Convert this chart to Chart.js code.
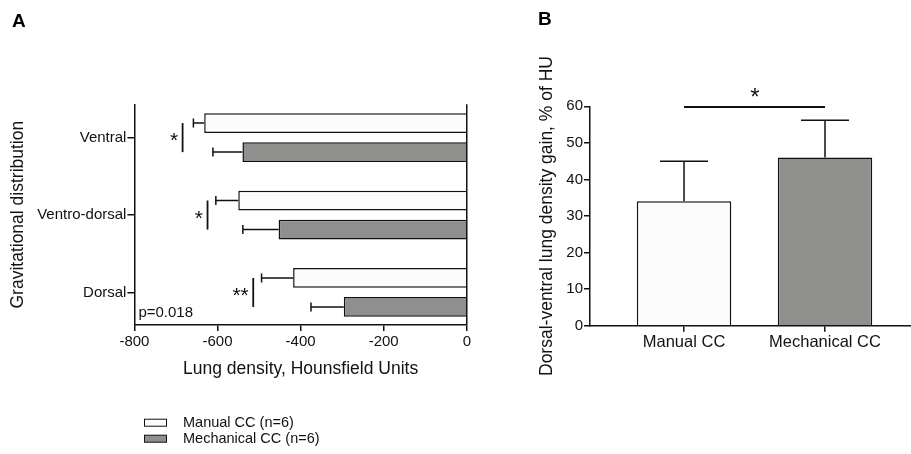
<!DOCTYPE html>
<html><head><meta charset="utf-8">
<script src="https://cdn.jsdelivr.net/npm/chart.js@4.4.1/dist/chart.umd.min.js"></script>
<style>
html,body{margin:0;padding:0;background:#fff;width:911px;height:454px;overflow:hidden}
#wrap{position:relative;width:911px;height:454px}
canvas{position:absolute;top:0}
.lbl{position:absolute;font:bold 19px "Liberation Sans",Arial,sans-serif;line-height:19px;color:#000}
</style></head><body>
<div id="wrap">
<canvas id="cA" width="480" height="454" style="left:0;width:480px;height:454px"></canvas>
<canvas id="cB" width="431" height="454" style="left:480px;width:431px;height:454px"></canvas>
<div class="lbl" style="left:12px;top:11px">A</div>
<div class="lbl" style="left:538px;top:9px">B</div>
</div>
<script>
const FONT = '"Liberation Sans", Arial, Helvetica, sans-serif';
const ink = '#111';

// ---- Panel A data ----
const categoriesA = ['Ventral', 'Ventro-dorsal', 'Dorsal'];
const seriesNames = ['Manual CC (n=6)', 'Mechanical CC (n=6)'];
const manualMeanA = [-632, -550, -418];
const manualSdA = [26, 54, 76];
const mechMeanA = [-540, -453, -296];
const mechSdA = [71, 86, 79];
const xTicksA = [-800, -600, -400, -200, 0];
const sigXA = [-684, -624, -514];
const sigLabelsA = ['*', '*', '**'];
const pValueText = 'p=0.018';

// ---- Panel B data ----
const categoriesB = ['Manual CC', 'Mechanical CC'];
const meanB = [34, 46];
const sdB = [11, 10.2];
const yTicksB = [0, 10, 20, 30, 40, 50, 60];
const sigB = { from: 0, to: 1, y: 60, label: '*' };

const colManual = '#fcfcfc';
const colMech = '#8f8f8d';

const errorBars = {
  id: 'errorBars',
  afterDatasetsDraw(chart, args, opts) {
    const ctx = chart.ctx;
    const horiz = chart.options.indexAxis === 'y';
    const vScale = horiz ? chart.scales.x : chart.scales.y;
    chart.data.datasets.forEach((ds, di) => {
      if (!ds.sd) return;
      const meta = chart.getDatasetMeta(di);
      meta.data.forEach((el, i) => {
        const d = ds.data[i];
        const val = horiz ? d.x : d.y;
        const tip = vScale.getPixelForValue(val + Math.sign(val) * ds.sd[i]);
        ctx.save();
        ctx.strokeStyle = ink; ctx.lineWidth = 1.5;
        ctx.beginPath();
        if (horiz) {
          ctx.moveTo(el.x, el.y); ctx.lineTo(tip, el.y);
          ctx.moveTo(tip, el.y - opts.cap); ctx.lineTo(tip, el.y + opts.cap);
        } else {
          ctx.moveTo(el.x, el.y); ctx.lineTo(el.x, tip);
          ctx.moveTo(el.x - opts.cap, tip); ctx.lineTo(el.x + opts.cap, tip);
        }
        ctx.stroke();
        ctx.restore();
      });
    });
  }
};

const sigAPlugin = {
  id: 'sigA',
  afterDatasetsDraw(chart) {
    const ctx = chart.ctx, xs = chart.scales.x;
    const m0 = chart.getDatasetMeta(0), m1 = chart.getDatasetMeta(1);
    ctx.save();
    ctx.strokeStyle = ink; ctx.fillStyle = ink; ctx.lineWidth = 1.8;
    sigXA.forEach((xv, i) => {
      const x = xs.getPixelForValue(xv);
      const y0 = m0.data[i].y, y1 = m1.data[i].y;
      ctx.beginPath(); ctx.moveTo(x, y0); ctx.lineTo(x, y1); ctx.stroke();
      ctx.font = '21px ' + FONT; ctx.textAlign = 'right'; ctx.textBaseline = 'alphabetic';
      ctx.fillText(sigLabelsA[i], x - 4.5, (y0 + y1) / 2 + 9.5);
    });
    ctx.font = '15px ' + FONT; ctx.textAlign = 'left'; ctx.textBaseline = 'middle';
    ctx.fillText(pValueText, chart.chartArea.left + 4, chart.chartArea.bottom - 12.3);
    ctx.restore();
  }
};

const legendA = {
  id: 'legendA',
  afterDraw(chart, args, opts) {
    const ctx = chart.ctx;
    ctx.save();
    chart.data.datasets.forEach((ds, i) => {
      const cy = opts.y + i * opts.row;
      ctx.fillStyle = ds.backgroundColor;
      ctx.fillRect(opts.x, cy - 3.5, 22, 7);
      ctx.strokeStyle = ink; ctx.lineWidth = 1;
      ctx.strokeRect(opts.x + 0.5, cy - 3.5, 22, 7);
      ctx.fillStyle = ink;
      ctx.font = '14.5px ' + FONT; ctx.textAlign = 'left'; ctx.textBaseline = 'middle';
      ctx.fillText(ds.label, opts.x + 39, cy + 0.5);
    });
    ctx.restore();
  }
};

new Chart(document.getElementById('cA'), {
  type: 'bar',
  data: {
    datasets: [
      { label: seriesNames[0], data: manualMeanA.map((v, i) => ({ x: v, y: i })), sd: manualSdA,
        backgroundColor: colManual, borderColor: ink, borderWidth: 1.5,
        categoryPercentage: 0.75, barPercentage: 0.68 },
      { label: seriesNames[1], data: mechMeanA.map((v, i) => ({ x: v, y: i })), sd: mechSdA,
        backgroundColor: colMech, borderColor: ink, borderWidth: 1.5,
        categoryPercentage: 0.75, barPercentage: 0.68 }
    ]
  },
  plugins: [errorBars, sigAPlugin, legendA],
  options: {
    indexAxis: 'y', responsive: false, animation: false,
    layout: { padding: { left: 0, top: 104.3, right: 13.2, bottom: 64 }, autoPadding: false },
    plugins: { legend: { display: false }, tooltip: { enabled: false },
      errorBars: { cap: 4.5 }, legendA: { x: 144, y: 422.7, row: 16 } },
    scales: {
      x: {
        type: 'linear', min: -800, max: 0, z: 1, offset: false,
        afterBuildTicks: s => { s.ticks = xTicksA.map(v => ({ value: v })); },
        afterFit: s => { s.height = 65; },
        grid: { drawOnChartArea: true, offset: false, color: c => (c.tick && c.tick.value === 0) ? ink : 'rgba(0,0,0,0)',
          lineWidth: 1.5, tickColor: ink, tickLength: 6 },
        border: { color: ink, width: 1.5 },
        ticks: { color: ink, font: { family: FONT, size: 15 }, padding: 2, maxRotation: 0, autoSkip: false },
        title: { display: true, text: 'Lung density, Hounsfield Units', color: ink,
          font: { family: FONT, size: 17.5 }, padding: { top: 0, bottom: 10.5 } }
      },
      y: {
        type: 'linear', reverse: true, min: -0.43, max: 2.42, offset: false,
        afterBuildTicks: s => { s.ticks = categoriesA.map((_, i) => ({ value: i })); },
        afterFit: s => { s.width = 134.4; },
        grid: { drawOnChartArea: false, offset: false, tickColor: ink, tickLength: 7, lineWidth: 1.5 },
        border: { color: ink, width: 1.5 },
        ticks: { color: ink, font: { family: FONT, size: 15 }, padding: 1, autoSkip: false,
          callback: v => categoriesA[v] ?? '' },
        title: { display: true, text: 'Gravitational distribution', color: ink,
          font: { family: FONT, size: 17.5 }, padding: { top: 7.5, bottom: 0 } }
      }
    }
  }
});

const sigBPlugin = {
  id: 'sigB',
  afterDatasetsDraw(chart) {
    const ctx = chart.ctx, xs = chart.scales.x, ys = chart.scales.y;
    const x0 = xs.getPixelForValue(sigB.from), x1 = xs.getPixelForValue(sigB.to);
    const y = ys.getPixelForValue(sigB.y);
    ctx.save();
    ctx.strokeStyle = ink; ctx.fillStyle = ink; ctx.lineWidth = 2;
    ctx.beginPath(); ctx.moveTo(x0, y + 0.7); ctx.lineTo(x1, y + 0.7); ctx.stroke();
    ctx.font = '24px ' + FONT; ctx.textAlign = 'center'; ctx.textBaseline = 'alphabetic';
    ctx.fillText(sigB.label, (x0 + x1) / 2 + 0.5, y - 1.5);
    ctx.restore();
  }
};

new Chart(document.getElementById('cB'), {
  type: 'bar',
  data: {
    datasets: [
      { label: 'gain', data: meanB.map((v, i) => ({ x: i, y: v })), sd: sdB,
        backgroundColor: [colManual, colMech], borderColor: ink, borderWidth: 1.5,
        categoryPercentage: 1, barPercentage: 0.67 }
    ]
  },
  plugins: [errorBars, sigBPlugin],
  options: {
    responsive: false, animation: false,
    layout: { padding: { left: 50, top: 106.3, right: 0, bottom: 88.3 }, autoPadding: false },
    plugins: { legend: { display: false }, tooltip: { enabled: false }, errorBars: { cap: 24 } },
    scales: {
      x: {
        type: 'linear', min: -0.667, max: 1.61, z: 1, offset: false,
        afterBuildTicks: s => { s.ticks = categoriesB.map((_, i) => ({ value: i })); },
        afterFit: s => { s.height = 40; },
        grid: { drawOnChartArea: false, offset: false, tickColor: ink, tickLength: 6, lineWidth: 1.5 },
        border: { color: ink, width: 1.5 },
        ticks: { color: ink, font: { family: FONT, size: 16.5 }, padding: 1, autoSkip: false, maxRotation: 0,
          callback: v => categoriesB[v] ?? '' }
      },
      y: {
        type: 'linear', min: 0, max: 60, offset: false,
        afterBuildTicks: s => { s.ticks = yTicksB.map(v => ({ value: v })); },
        afterFit: s => { s.width = 60; },
        grid: { drawOnChartArea: false, offset: false, tickColor: ink, tickLength: 6, lineWidth: 1.5 },
        border: { color: ink, width: 1.5 },
        ticks: { color: ink, font: { family: FONT, size: 15 }, padding: 1 },
        title: { display: true, text: 'Dorsal-ventral lung density gain, % of HU', color: ink,
          font: { family: FONT, size: 17.5 }, padding: { top: 6.5, bottom: 0 } }
      }
    }
  }
});
</script>
</body></html>
